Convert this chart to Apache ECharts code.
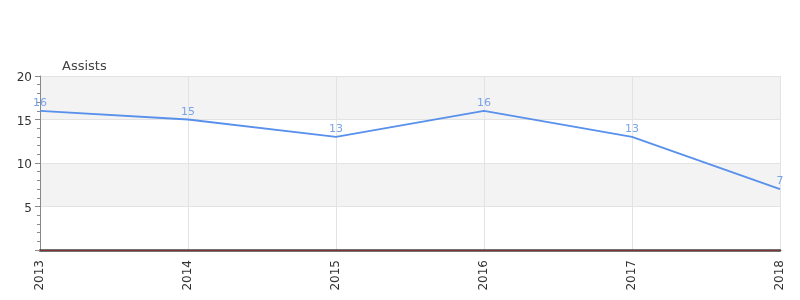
<!DOCTYPE html>
<html><head><meta charset="utf-8">
<script src="https://cdn.jsdelivr.net/npm/echarts@6/dist/echarts.min.js"></script>
<style>html,body{margin:0;padding:0;background:#fff}#c{width:800px;height:300px}</style>
</head><body><div id="c"></div>
<script>
var categories = ['2013','2014','2015','2016','2017','2018'];
var assists = [16, 15, 13, 16, 13, 7];
var seriesName = 'Assists';

var chart = echarts.init(document.getElementById('c'), null, {renderer:'canvas'});
chart.setOption({
  animation: false,
  backgroundColor: '#fff',
  title: {text: seriesName, left: 57, top: 55, textStyle: {fontSize: 13, fontWeight: 'normal', color: '#444', fontFamily: 'DejaVu Sans'}},
  grid: {left: 40, right: 20, top: 76, bottom: 50, containLabel: false},
  xAxis: [{
    type: 'category', data: categories, boundaryGap: false,
    axisLine: {show: true, lineStyle: {color: '#444', width: 2.5}},
    axisTick: {show: false},
    axisLabel: {rotate: 90, fontSize: 12, color: '#333', fontFamily: 'DejaVu Sans', margin: 10},
    splitLine: {show: true, lineStyle: {color: '#e3e3e3'}}
  },{
    type: 'category', data: categories, boundaryGap: false, position: 'bottom',
    axisLine: {show: true, lineStyle: {color: '#cc2222', width: 0.8, opacity: 0.6}},
    axisTick: {show: false}, axisLabel: {show: false}, splitLine: {show: false}
  }],
  yAxis: {
    type: 'value', min: 0, max: 20, interval: 5,
    axisLine: {show: true, lineStyle: {color: '#888'}},
    axisTick: {show: true, length: 5, lineStyle: {color: '#888'}},
    minorTick: {show: true, splitNumber: 5, length: 3, lineStyle: {color: '#888'}},
    axisLabel: {fontSize: 12, color: '#333', fontFamily: 'DejaVu Sans', margin: 8,
      formatter: function(v){ return v === 0 ? '' : '{a|' + v + '}'; },
      rich: {a: {fontSize: 12, color: '#333', fontFamily: 'DejaVu Sans', padding: [4,0,0,0]}}},
    splitLine: {show: true, lineStyle: {color: '#e3e3e3'}},
    splitArea: {show: true, areaStyle: {color: ['#ffffff', '#f3f3f3']}}
  },
  series: [{
    name: seriesName, type: 'line', data: assists, smooth: false,
    symbol: 'circle', symbolSize: 2, showSymbol: true, xAxisIndex: 0,
    itemStyle: {color: 'rgba(0,0,0,0)'},
    lineStyle: {color: '#5890ec', width: 1.8},
    label: {show: true, position: 'top', fontSize: 11, color: '#7aa3ea', fontFamily: 'DejaVu Sans', distance: 1}
  }]
});
</script></body></html>
